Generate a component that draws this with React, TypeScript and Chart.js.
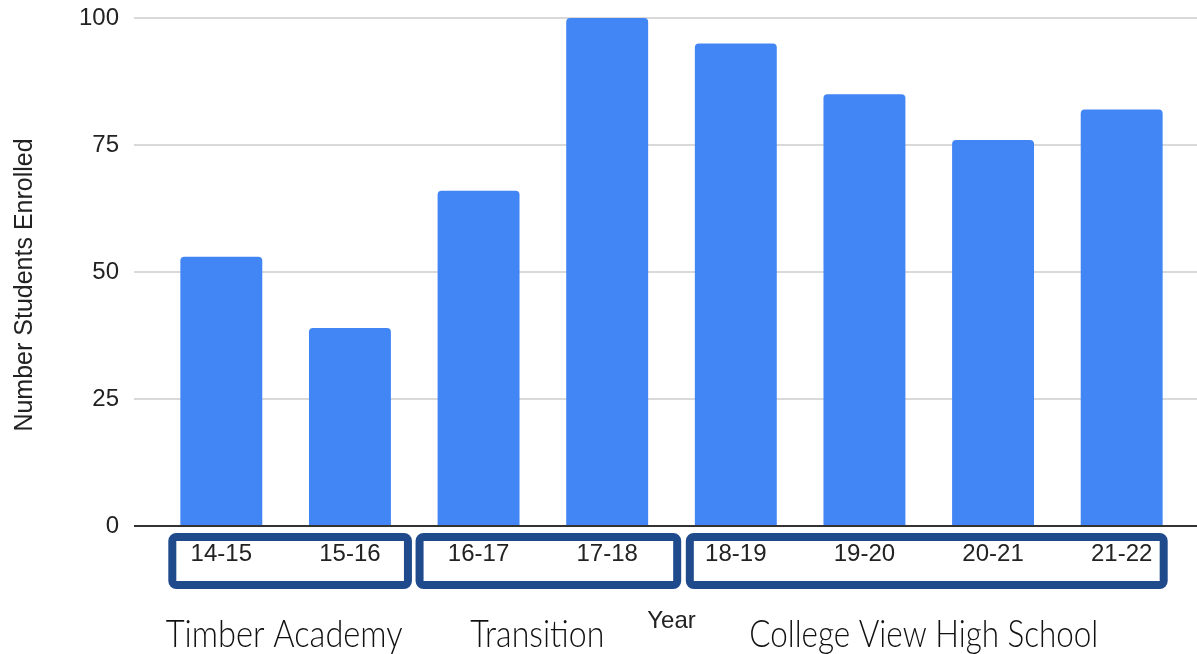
import React, { useEffect, useRef } from 'react';
import { Chart, registerables } from 'chart.js';

Chart.register(...registerables);

// ---- data ----
const years = ['14-15', '15-16', '16-17', '17-18', '18-19', '19-20', '20-21', '21-22'];
const enrolled = [53, 39, 66, 100, 95, 85, 76, 82];
const yTickValues = [0, 25, 50, 75, 100];
const yTitle = 'Number Students Enrolled';
const groupNames = ['Timber Academy', 'Transition', 'College View High School'];
const groupFirst = [0, 2, 4];
const groupLast = [1, 3, 7];

// ---- styles ----
const W = 1197;
const H = 654;
const BAR_COLOR = '#4285F4';
const GRID_COLOR = '#cccccc';
const BASE_COLOR = '#333333';
const BOX_COLOR = '#1f4a8c';
const TEXT_COLOR = '#222222';
const ARIAL = '"Liberation Sans", Arial, sans-serif';
const GROUP_FONT = '300 38px Lato, "Open Sans", sans-serif';
const GRID_LEFT = 134;
// box stroke-centre insets relative to first/last bar centres (px)
const boxLeftPad = [-49, -59, -46];
const boxRightPad = [58, 70, 42];
const labelShift = [-6, -11, -3];
const labelMaxWidth = [237, 134, 349];

const decor = {
  id: 'decor',
  beforeDatasetsDraw(chart: any) {
    const { ctx } = chart;
    const y = chart.scales.y;
    ctx.save();
    ctx.strokeStyle = GRID_COLOR;
    ctx.lineWidth = 1.5;
    yTickValues.forEach((t) => {
      if (t === 0) return;
      const py = y.getPixelForValue(t);
      ctx.beginPath();
      ctx.moveTo(GRID_LEFT, py);
      ctx.lineTo(chart.width, py);
      ctx.stroke();
    });
    ctx.restore();
  },
  afterDatasetsDraw(chart: any) {
    const { ctx } = chart;
    const y = chart.scales.y;
    const py = y.getPixelForValue(0);
    ctx.save();
    ctx.strokeStyle = BASE_COLOR;
    ctx.lineWidth = 2;
    ctx.beginPath();
    ctx.moveTo(GRID_LEFT, py);
    ctx.lineTo(chart.width, py);
    ctx.stroke();
    ctx.restore();
  },
  afterDraw(chart: any) {
    const { ctx, chartArea } = chart;
    const x = chart.scales.x;
    const y0 = chart.scales.y.getPixelForValue(0);
    ctx.save();
    // y-axis title
    ctx.save();
    ctx.translate(25, (chartArea.top + chartArea.bottom) / 2 + 13);
    ctx.rotate(-Math.PI / 2);
    ctx.fillStyle = TEXT_COLOR;
    ctx.font = `25px ${ARIAL}`;
    ctx.textAlign = 'center';
    ctx.textBaseline = 'middle';
    ctx.fillText(yTitle, 0, 0);
    ctx.restore();
    groupNames.forEach((name, i) => {
      const left = x.getPixelForValue(groupFirst[i]) + boxLeftPad[i];
      const right = x.getPixelForValue(groupLast[i]) + boxRightPad[i];
      const top = y0 + 11;
      const bottom = y0 + 59;
      ctx.strokeStyle = BOX_COLOR;
      ctx.lineWidth = 8;
      ctx.beginPath();
      ctx.roundRect(left, top, right - left, bottom - top, 4);
      ctx.stroke();
      ctx.fillStyle = '#111111';
      ctx.font = GROUP_FONT;
      ctx.textAlign = 'center';
      ctx.textBaseline = 'alphabetic';
      ctx.fillText(name, (left + right) / 2 + labelShift[i], y0 + 121, labelMaxWidth[i]);
    });
    ctx.restore();
  },
};

export default function App() {
  const ref = useRef<HTMLCanvasElement>(null);
  useEffect(() => {
    if (!ref.current) return;
    const chart = new Chart(ref.current, {
      type: 'bar',
      data: {
        labels: years,
        datasets: [
          {
            data: enrolled,
            backgroundColor: BAR_COLOR,
            borderRadius: { topLeft: 4, topRight: 4, bottomLeft: 0, bottomRight: 0 },
            borderSkipped: 'start',
            barPercentage: 0.637,
            categoryPercentage: 1,
          },
        ],
      },
      options: {
        responsive: false,
        animation: false,
        devicePixelRatio: 1,
        layout: { padding: { top: 18, right: 11, left: 0, bottom: 0 } },
        plugins: { legend: { display: false }, tooltip: { enabled: false } },
        scales: {
          x: {
            offset: true,
            grid: { display: false, drawTicks: false },
            border: { display: false },
            ticks: { color: TEXT_COLOR, font: { family: ARIAL, size: 24 }, padding: 14, maxRotation: 0 },
            title: {
              display: true,
              text: 'Year',
              color: TEXT_COLOR,
              font: { family: ARIAL, size: 24 },
              padding: { top: 0, bottom: 18 },
            },
            afterFit: (s: any) => {
              s.height = 128;
            },
          },
          y: {
            min: 0,
            max: 100,
            grid: {
              display: true,
              drawOnChartArea: false,
              drawTicks: true,
              tickLength: 38,
              color: 'rgba(0,0,0,0)',
            },
            border: { display: false },
            ticks: {
              stepSize: 25,
              color: TEXT_COLOR,
              font: { family: ARIAL, size: 24 },
              padding: 0,
            },
            title: { display: false },
            afterFit: (s: any) => {
              s.width = 157;
            },
          },
        },
      },
      plugins: [decor],
    });
    return () => chart.destroy();
  }, []);
  return (
    <div style={{ position: 'fixed', left: 0, top: 0, width: W, height: H, background: '#fff' }}>
      <canvas ref={ref} width={W} height={H} style={{ display: 'block', width: W, height: H }} />
    </div>
  );
}
